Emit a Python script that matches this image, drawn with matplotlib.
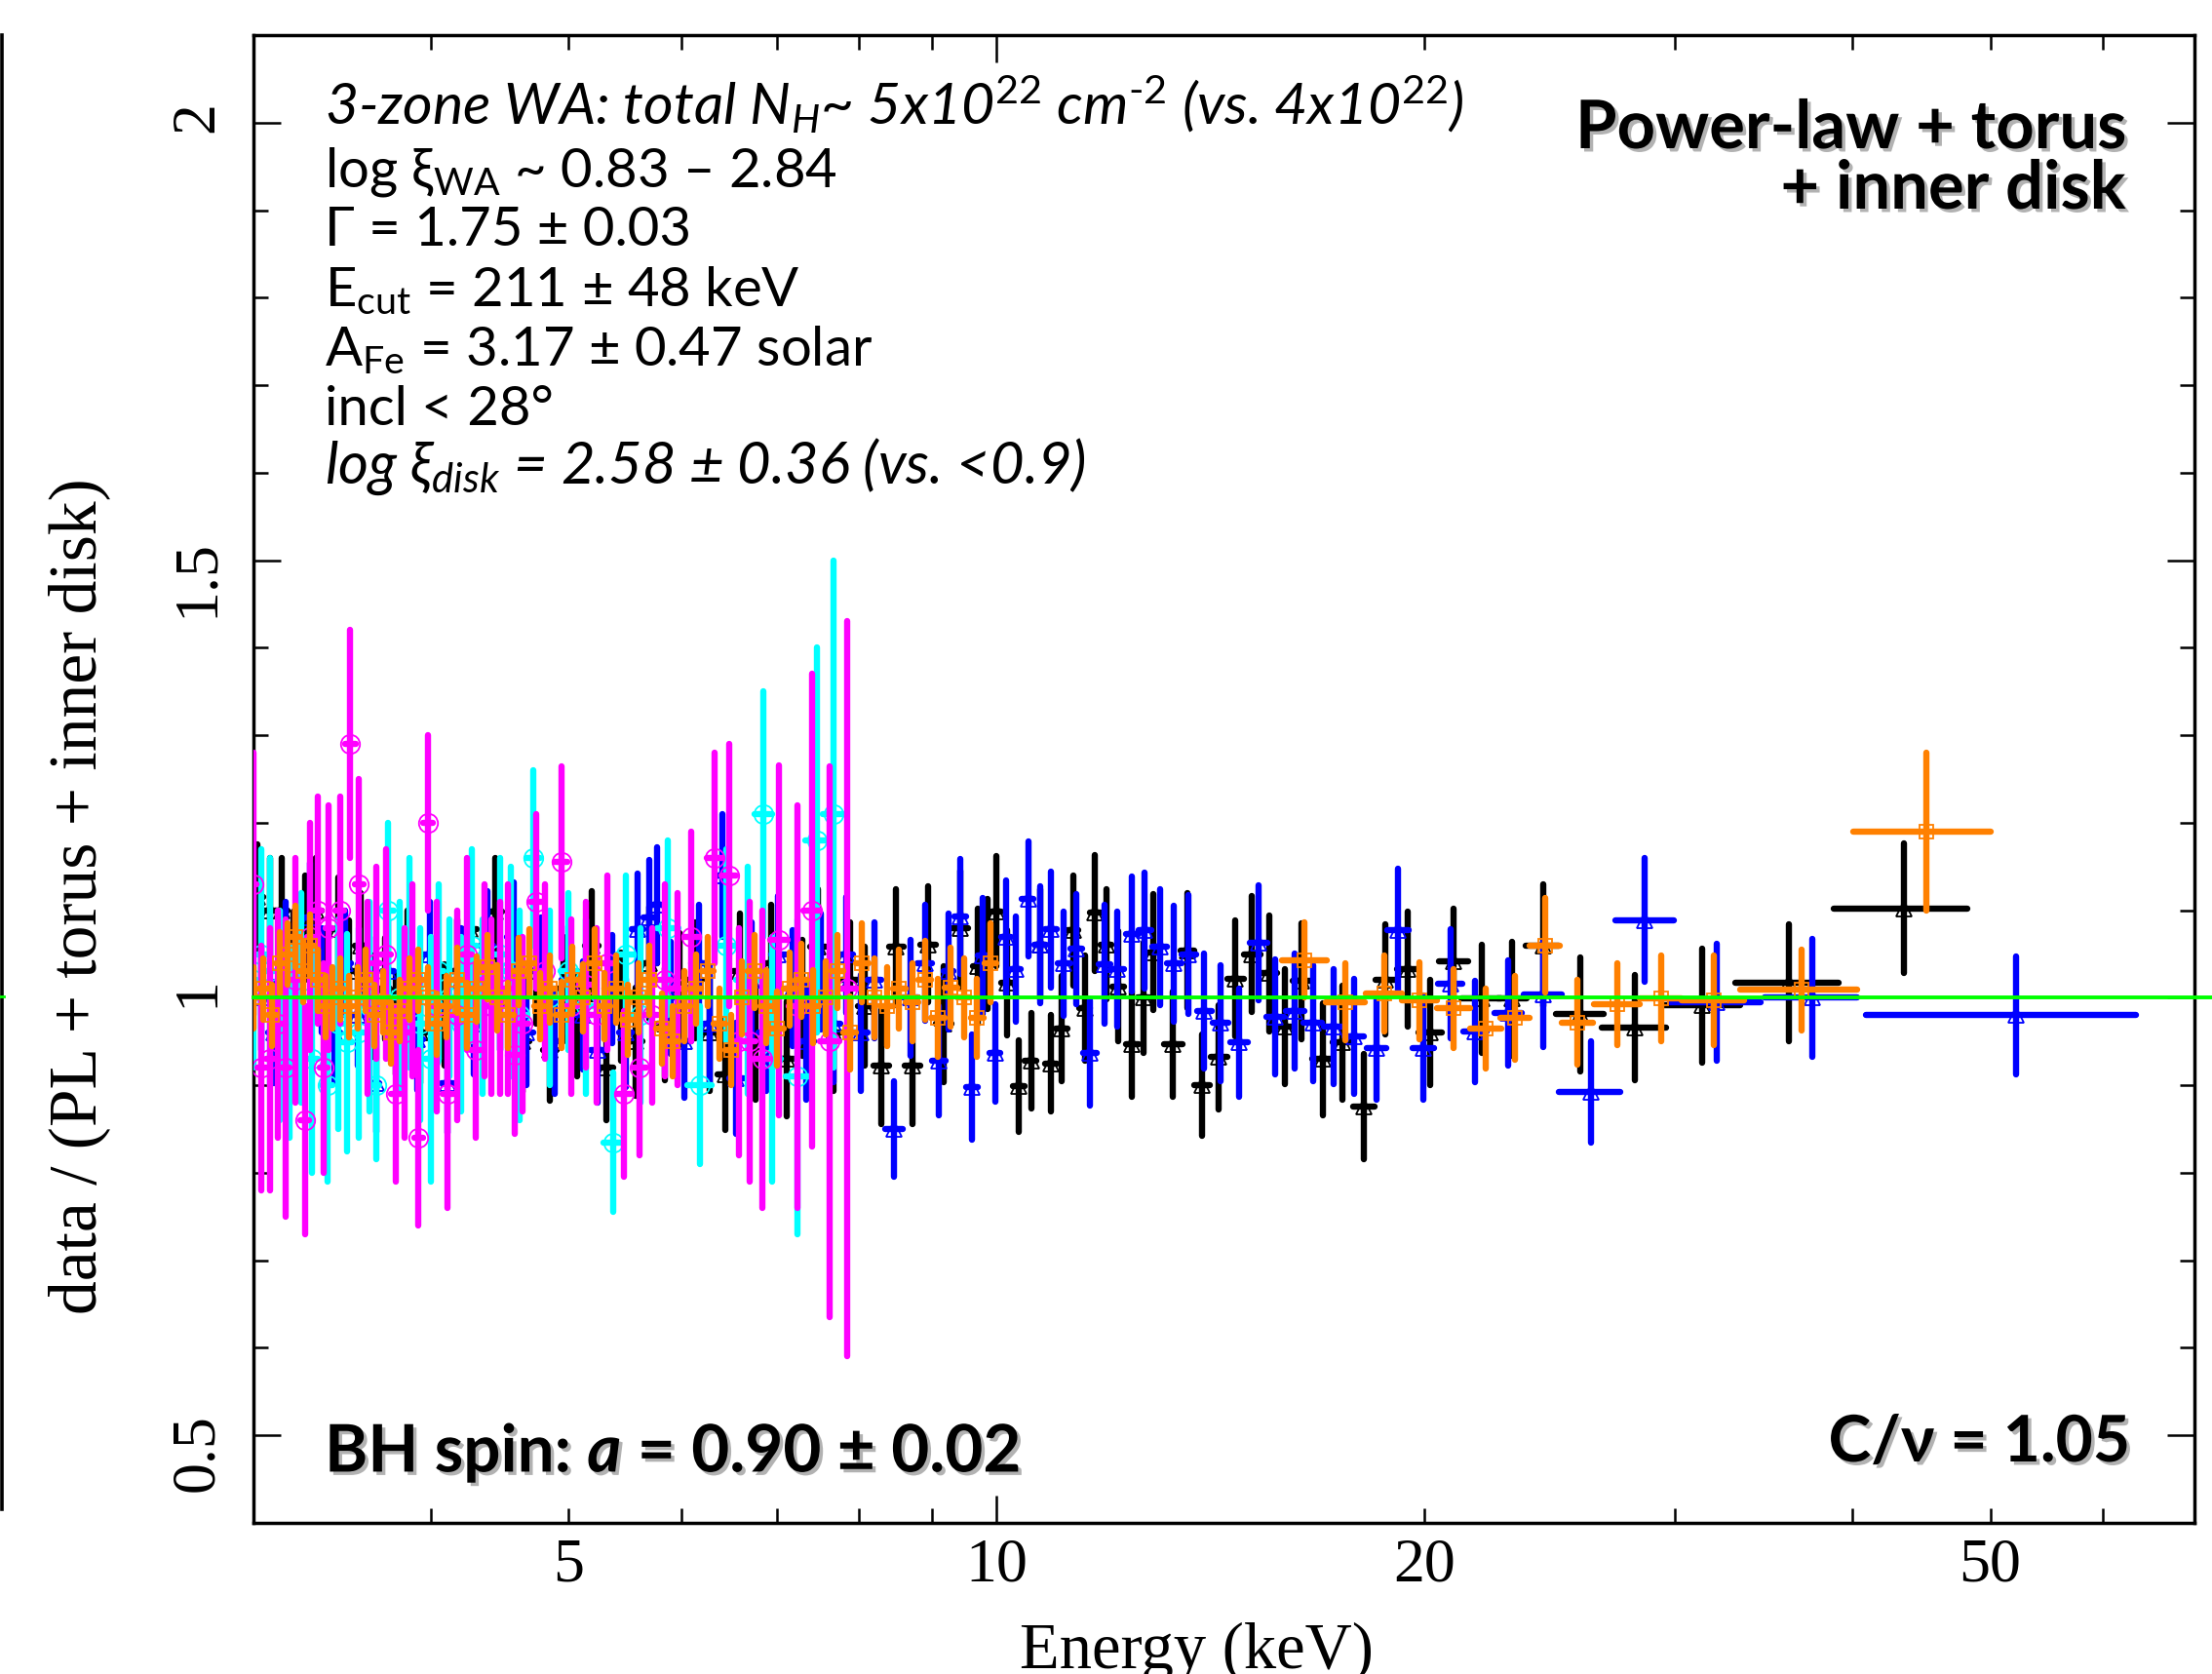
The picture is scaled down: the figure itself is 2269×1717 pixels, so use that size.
import matplotlib
matplotlib.use("Agg")
import matplotlib.pyplot as plt
import matplotlib.patheffects as pe
from matplotlib.lines import Line2D
from matplotlib.ticker import FixedLocator, FuncFormatter, MultipleLocator

# ---- spectral ratio data: energy (keV), half bin width, ratio, 1-sigma error ----

# black triangles
black_e = [3.02, 3.08, 3.14, 3.20, 3.26, 3.32, 3.38, 3.44, 3.50, 3.57,
           3.64, 3.71, 3.78, 3.85, 3.93, 4.01, 4.09, 4.17, 4.26, 4.35,
           4.44, 4.54, 4.64, 4.74, 4.85, 4.96, 5.07, 5.19, 5.31, 5.44,
           5.57, 5.70, 5.84, 5.98, 6.13, 6.28, 6.44, 6.60, 6.77, 6.94,
           7.12, 7.30, 7.49, 7.68, 7.88, 8.08, 8.29, 8.50, 8.72, 8.95,
           9.18, 9.42, 9.70, 9.86, 10.00, 10.17, 10.37, 10.57, 10.73, 10.92,
           11.11, 11.32, 11.53, 11.73, 11.94, 12.18, 12.45, 12.69, 12.89, 13.31,
           13.62, 13.95, 14.33, 14.72, 15.12, 15.54, 15.96, 16.39, 16.95, 17.50,
           18.13, 18.78, 19.45, 20.17, 20.97, 21.93, 23.05, 24.22, 25.73, 28.10,
           31.35, 36.10, 43.50]
black_de = [0.03, 0.03, 0.03, 0.03, 0.03, 0.03, 0.03, 0.03, 0.035, 0.035,
            0.035, 0.035, 0.035, 0.04, 0.04, 0.04, 0.04, 0.045, 0.045, 0.045,
            0.045, 0.05, 0.05, 0.05, 0.055, 0.055, 0.055, 0.06, 0.06, 0.065,
            0.065, 0.065, 0.07, 0.07, 0.075, 0.075, 0.08, 0.08, 0.085, 0.085,
            0.09, 0.09, 0.095, 0.095, 0.10, 0.10, 0.105, 0.105, 0.11, 0.11,
            0.115, 0.12, 0.08, 0.08, 0.08, 0.09, 0.10, 0.10, 0.08, 0.10,
            0.10, 0.10, 0.10, 0.10, 0.11, 0.12, 0.13, 0.12, 0.10, 0.20,
            0.15, 0.17, 0.19, 0.20, 0.20, 0.21, 0.21, 0.23, 0.28, 0.28,
            0.32, 0.32, 0.34, 0.38, 0.50, 0.70, 0.55, 0.65, 1.00, 1.45,
            2.0, 3.0, 4.7]
black_r = [1.115, 1.100, 1.100, 1.040, 1.080, 1.100, 1.020, 1.078, 1.030, 1.060,
           0.990, 1.010, 0.970, 1.040, 0.960, 1.000, 0.980, 1.030, 1.078, 1.020,
           1.098, 1.000, 0.950, 1.030, 0.940, 1.010, 0.970, 1.060, 0.920, 0.990,
           0.950, 1.040, 0.970, 1.010, 1.020, 0.960, 0.913, 1.030, 0.950, 1.040,
           0.930, 1.000, 1.058, 0.960, 1.020, 0.990, 0.922, 1.058, 0.922, 1.061,
           0.970, 1.079, 1.036, 1.050, 1.099, 1.017, 0.899, 0.928, 1.061, 0.925,
           0.965, 1.077, 0.988, 1.097, 1.061, 1.013, 0.947, 1.000, 1.052, 0.947,
           1.054, 0.900, 0.932, 1.022, 1.050, 1.028, 0.967, 1.019, 0.930, 0.949,
           0.876, 1.021, 1.033, 0.960, 1.042, 0.999, 0.999, 1.060, 0.981, 0.966,
           0.991, 1.017, 1.102]
black_dr = [0.060, 0.060, 0.060, 0.058, 0.060, 0.060, 0.058, 0.060, 0.058, 0.060,
            0.058, 0.058, 0.058, 0.060, 0.058, 0.058, 0.058, 0.060, 0.060, 0.060,
            0.062, 0.060, 0.058, 0.060, 0.058, 0.060, 0.060, 0.062, 0.060, 0.062,
            0.062, 0.064, 0.064, 0.064, 0.066, 0.066, 0.064, 0.066, 0.066, 0.066,
            0.066, 0.066, 0.066, 0.066, 0.066, 0.068, 0.066, 0.066, 0.066, 0.066,
            0.066, 0.066, 0.066, 0.063, 0.063, 0.060, 0.052, 0.055, 0.063, 0.055,
            0.060, 0.063, 0.060, 0.066, 0.063, 0.063, 0.060, 0.063, 0.066, 0.060,
            0.066, 0.058, 0.060, 0.066, 0.066, 0.066, 0.066, 0.066, 0.064, 0.065,
            0.060, 0.063, 0.066, 0.060, 0.060, 0.062, 0.065, 0.070, 0.065, 0.060,
            0.065, 0.067, 0.074]

# blue triangles
blue_e = [3.04, 3.10, 3.16, 3.23, 3.29, 3.35, 3.42, 3.48, 3.55, 3.62,
          3.66, 3.73, 3.80, 3.91, 3.99, 4.04, 4.11, 4.20, 4.29, 4.38,
          4.47, 4.57, 4.67, 4.78, 4.89, 5.00, 5.12, 5.24, 5.36, 5.48,
          5.59, 5.70, 5.77, 5.90, 6.03, 6.17, 6.28, 6.41, 6.56, 6.72,
          6.88, 7.02, 7.18, 7.35, 7.52, 7.68, 7.84, 8.02, 8.20, 8.47,
          8.70, 8.90, 9.10, 9.25, 9.43, 9.61, 9.78, 9.97, 10.16, 10.32,
          10.52, 10.73, 10.92, 11.15, 11.38, 11.63, 11.91, 12.16, 12.45, 12.71,
          13.02, 13.33, 13.65, 14.00, 14.38, 14.81, 15.29, 15.70, 16.21, 16.69,
          17.26, 17.84, 18.50, 19.16, 19.95, 20.85, 21.71, 22.90, 24.22, 26.17,
          28.58, 32.10, 37.50, 52.10]
blue_de = [0.03, 0.03, 0.03, 0.03, 0.03, 0.03, 0.035, 0.035, 0.035, 0.035,
           0.02, 0.035, 0.035, 0.04, 0.04, 0.03, 0.04, 0.045, 0.045, 0.045,
           0.045, 0.05, 0.05, 0.055, 0.055, 0.055, 0.06, 0.06, 0.06, 0.06,
           0.055, 0.055, 0.05, 0.07, 0.07, 0.07, 0.06, 0.07, 0.08, 0.08,
           0.08, 0.08, 0.08, 0.085, 0.085, 0.08, 0.08, 0.09, 0.09, 0.12,
           0.11, 0.10, 0.10, 0.08, 0.09, 0.09, 0.08, 0.09, 0.08, 0.08,
           0.10, 0.10, 0.10, 0.11, 0.11, 0.12, 0.12, 0.13, 0.13, 0.13,
           0.15, 0.15, 0.16, 0.17, 0.18, 0.20, 0.22, 0.22, 0.24, 0.25,
           0.27, 0.28, 0.30, 0.33, 0.35, 0.40, 0.42, 0.50, 0.75, 1.30,
           1.35, 2.35, 2.80, 11.2]
blue_r = [1.000, 0.960, 1.050, 0.990, 1.092, 1.020, 0.960, 1.040, 0.980, 1.010,
          0.902, 1.030, 0.970, 0.953, 1.050, 0.990, 0.902, 1.020, 0.970, 1.060,
          1.000, 1.070, 0.960, 1.030, 0.950, 1.020, 0.980, 0.940, 1.010, 0.960,
          1.078, 1.092, 1.106, 1.000, 0.950, 1.040, 0.970, 1.140, 0.908, 1.020,
          0.960, 1.050, 1.011, 0.950, 1.030, 0.970, 1.049, 0.960, 1.020, 0.850,
          1.000, 1.040, 0.928, 1.030, 1.093, 0.898, 1.048, 0.937, 1.069, 1.033,
          1.113, 1.061, 1.078, 1.039, 1.056, 0.937, 1.038, 1.033, 1.073, 1.077,
          1.058, 1.039, 1.049, 0.985, 0.971, 0.949, 1.063, 0.978, 0.985, 0.971,
          0.967, 0.956, 0.943, 1.077, 0.943, 1.016, 0.961, 0.983, 1.004, 0.892,
          1.089, 0.995, 1.000, 0.980]
blue_dr = [0.060, 0.058, 0.060, 0.058, 0.062, 0.060, 0.058, 0.060, 0.058, 0.060,
           0.055, 0.060, 0.058, 0.058, 0.060, 0.058, 0.056, 0.060, 0.058, 0.062,
           0.060, 0.062, 0.060, 0.062, 0.060, 0.062, 0.062, 0.060, 0.062, 0.062,
           0.064, 0.066, 0.066, 0.064, 0.064, 0.066, 0.066, 0.070, 0.064, 0.066,
           0.066, 0.066, 0.066, 0.066, 0.066, 0.066, 0.066, 0.066, 0.066, 0.055,
           0.066, 0.066, 0.062, 0.066, 0.066, 0.060, 0.066, 0.056, 0.065, 0.060,
           0.066, 0.067, 0.066, 0.060, 0.063, 0.060, 0.068, 0.066, 0.066, 0.066,
           0.066, 0.066, 0.068, 0.066, 0.066, 0.062, 0.066, 0.066, 0.066, 0.066,
           0.066, 0.066, 0.060, 0.070, 0.060, 0.062, 0.058, 0.060, 0.060, 0.058,
           0.071, 0.067, 0.067, 0.067]

# cyan circles
cyan_e = [3.00, 3.04, 3.08, 3.13, 3.18, 3.24, 3.30, 3.38, 3.44, 3.49,
          3.56, 3.62, 3.66, 3.73, 3.80, 3.86, 3.93, 4.00, 4.05, 4.12,
          4.20, 4.27, 4.35, 4.47, 4.55, 4.62, 4.72, 4.85, 5.00, 5.14,
          5.37, 5.48, 5.62, 5.87, 6.18, 6.45, 6.68, 6.85, 6.95, 7.24,
          7.47, 7.68]
cyan_de = [0.015, 0.02, 0.02, 0.025, 0.025, 0.03, 0.03, 0.03, 0.03, 0.03,
           0.035, 0.035, 0.02, 0.035, 0.035, 0.035, 0.035, 0.04, 0.03, 0.04,
           0.04, 0.04, 0.045, 0.05, 0.05, 0.05, 0.05, 0.06, 0.07, 0.07,
           0.08, 0.07, 0.08, 0.10, 0.12, 0.12, 0.12, 0.10, 0.10, 0.14,
           0.14, 0.14]
cyan_r = [1.020, 1.050, 1.030, 0.980, 0.950, 1.000, 0.930, 0.900, 0.970, 0.949,
          0.960, 0.990, 0.900, 1.100, 1.000, 1.040, 0.970, 0.930, 1.030, 1.000,
          0.970, 1.060, 0.990, 1.050, 1.030, 0.980, 1.160, 1.000, 1.030, 0.990,
          0.835, 1.050, 0.980, 1.080, 0.900, 1.060, 1.020, 1.210, 0.930, 0.910,
          1.180, 1.210]
cyan_dr = [0.100, 0.120, 0.130, 0.120, 0.110, 0.120, 0.130, 0.110, 0.120, 0.124,
           0.120, 0.120, 0.085, 0.100, 0.110, 0.120, 0.110, 0.140, 0.100, 0.090,
           0.100, 0.110, 0.100, 0.110, 0.120, 0.120, 0.100, 0.100, 0.090, 0.100,
           0.080, 0.090, 0.100, 0.100, 0.090, 0.110, 0.130, 0.140, 0.140, 0.180,
           0.220, 0.290]

# magenta circles
mag_e = [3.00, 3.04, 3.08, 3.12, 3.16, 3.21, 3.26, 3.29, 3.33, 3.36,
         3.39, 3.45, 3.51, 3.56, 3.61, 3.66, 3.72, 3.78, 3.83, 3.88,
         3.92, 3.98, 4.04, 4.11, 4.17, 4.24, 4.30, 4.36, 4.41, 4.47,
         4.53, 4.58, 4.64, 4.74, 4.81, 4.94, 5.02, 5.14, 5.23, 5.32,
         5.47, 5.61, 5.72, 5.84, 5.96, 6.10, 6.33, 6.48, 6.59, 6.70,
         6.84, 7.03, 7.24, 7.41, 7.63, 7.85]
mag_de = [0.015, 0.02, 0.02, 0.02, 0.02, 0.025, 0.025, 0.02, 0.02, 0.02,
          0.02, 0.025, 0.03, 0.025, 0.025, 0.025, 0.03, 0.03, 0.03, 0.03,
          0.03, 0.03, 0.03, 0.035, 0.035, 0.035, 0.035, 0.035, 0.03, 0.035,
          0.035, 0.03, 0.04, 0.045, 0.04, 0.05, 0.05, 0.05, 0.05, 0.05,
          0.06, 0.06, 0.06, 0.06, 0.07, 0.07, 0.08, 0.08, 0.06, 0.07,
          0.08, 0.10, 0.10, 0.10, 0.12, 0.12]
mag_r = [1.130, 0.920, 0.930, 0.970, 0.920, 1.020, 0.860, 1.070, 1.100, 0.920,
         1.080, 1.100, 1.290, 1.130, 1.000, 1.040, 1.050, 0.890, 0.960, 1.020,
         0.840, 1.200, 0.990, 0.890, 0.980, 1.050, 0.940, 1.020, 0.990, 1.000,
         1.010, 0.935, 0.970, 1.110, 1.030, 1.155, 0.990, 1.015, 0.980, 1.040,
         0.890, 0.920, 0.980, 1.020, 1.010, 1.070, 1.160, 1.140, 0.950, 0.950,
         0.930, 1.066, 0.990, 1.100, 0.950, 1.010]
mag_dr = [0.150, 0.140, 0.150, 0.130, 0.170, 0.140, 0.130, 0.130, 0.130, 0.120,
          0.140, 0.130, 0.130, 0.120, 0.110, 0.110, 0.120, 0.100, 0.120, 0.110,
          0.100, 0.100, 0.120, 0.130, 0.120, 0.110, 0.100, 0.110, 0.100, 0.110,
          0.120, 0.090, 0.100, 0.100, 0.100, 0.110, 0.100, 0.095, 0.100, 0.100,
          0.095, 0.100, 0.100, 0.110, 0.110, 0.120, 0.120, 0.150, 0.130, 0.160,
          0.170, 0.200, 0.230, 0.270, 0.315, 0.420]

# orange squares
orange_e = [3.00, 3.05, 3.09, 3.13, 3.17, 3.21, 3.25, 3.29, 3.33, 3.37,
            3.41, 3.45, 3.50, 3.55, 3.60, 3.65, 3.70, 3.75, 3.80, 3.86,
            3.92, 3.98, 4.04, 4.10, 4.17, 4.24, 4.31, 4.38, 4.45, 4.53,
            4.61, 4.69, 4.77, 4.85, 4.94, 5.03, 5.12, 5.21, 5.30, 5.40,
            5.50, 5.60, 5.70, 5.81, 5.92, 6.03, 6.14, 6.26, 6.38, 6.50,
            6.62, 6.75, 6.88, 7.01, 7.15, 7.29, 7.43, 7.58, 7.73, 7.88,
            8.04, 8.20, 8.37, 8.54, 8.72, 8.90, 9.09, 9.28, 9.48, 9.69,
            9.90,
            16.47, 17.60, 18.74, 19.84, 20.97, 22.09, 23.16, 24.31, 25.61, 27.33,
            29.34, 31.95, 36.83, 45.07]
orange_de = [0.02, 0.02, 0.02, 0.02, 0.02, 0.02, 0.02, 0.02, 0.02, 0.02,
             0.02, 0.02, 0.025, 0.025, 0.025, 0.025, 0.025, 0.025, 0.025, 0.03,
             0.03, 0.03, 0.03, 0.03, 0.035, 0.035, 0.035, 0.035, 0.035, 0.04,
             0.04, 0.04, 0.04, 0.04, 0.045, 0.045, 0.045, 0.045, 0.045, 0.05,
             0.05, 0.05, 0.05, 0.055, 0.055, 0.055, 0.055, 0.06, 0.06, 0.06,
             0.06, 0.065, 0.065, 0.07, 0.07, 0.07, 0.07, 0.075, 0.075, 0.075,
             0.08, 0.08, 0.085, 0.085, 0.09, 0.09, 0.095, 0.095, 0.10, 0.10,
             0.10,
             0.60, 0.55, 0.55, 0.55, 0.55, 0.55, 0.55, 0.60, 0.65, 1.00,
             1.00, 1.60, 3.50, 5.00]
orange_r = [1.000, 1.010, 0.980, 1.040, 1.050, 1.070, 1.030, 1.060, 1.020, 0.990,
            1.000, 1.010, 0.990, 1.000, 1.020, 0.980, 0.995, 0.960, 0.985, 1.010,
            1.020, 1.000, 0.970, 0.990, 1.020, 0.980, 1.010, 1.035, 1.000, 0.980,
            1.030, 1.040, 0.990, 1.010, 0.980, 1.020, 1.000, 1.040, 0.990, 1.010,
            0.975, 1.000, 1.020, 0.965, 0.950, 0.990, 1.010, 1.030, 0.970, 0.940,
            1.000, 1.030, 0.990, 0.965, 1.010, 1.020, 0.990, 1.000, 1.030, 0.960,
            1.040, 1.000, 0.990, 1.010, 0.995, 1.020, 0.977, 1.012, 1.000, 0.977,
            1.040,
            1.043, 0.995, 1.005, 0.997, 0.988, 0.965, 0.977, 1.060, 0.972, 0.993,
            0.999, 0.997, 1.009, 1.190]
orange_dr = [0.035, 0.035, 0.035, 0.035, 0.035, 0.035, 0.035, 0.035, 0.035, 0.035,
             0.035, 0.035, 0.035, 0.035, 0.035, 0.035, 0.035, 0.035, 0.035, 0.035,
             0.035, 0.035, 0.035, 0.035, 0.037, 0.037, 0.037, 0.037, 0.037, 0.037,
             0.038, 0.038, 0.038, 0.038, 0.038, 0.038, 0.038, 0.038, 0.038, 0.038,
             0.040, 0.040, 0.040, 0.040, 0.040, 0.040, 0.040, 0.040, 0.040, 0.040,
             0.042, 0.042, 0.042, 0.042, 0.042, 0.042, 0.042, 0.042, 0.042, 0.042,
             0.045, 0.045, 0.045, 0.045, 0.045, 0.045, 0.045, 0.045, 0.045, 0.045,
             0.045,
             0.043, 0.044, 0.043, 0.044, 0.045, 0.046, 0.048, 0.054, 0.048, 0.047,
             0.049, 0.051, 0.046, 0.090]

x_major = [10]
x_minor = [4, 5, 6, 7, 8, 9, 20, 30, 40, 50, 60]
x_labelled = [5, 20, 50]

# ---- fonts ----
plt.rcParams['mathtext.fontset'] = 'custom'
plt.rcParams['mathtext.rm'] = 'Lato'
plt.rcParams['mathtext.it'] = 'Lato:italic'
plt.rcParams['mathtext.bf'] = 'Lato:bold'
plt.rcParams['mathtext.bfit'] = 'Lato:italic:bold'
sans = ['Lato', 'DejaVu Sans']
serif = ['Liberation Serif', 'DejaVu Serif']

W, H = 2269, 1717
fig = plt.figure(figsize=(W / 100, H / 100), dpi=100)
ax = fig.add_axes([260 / W, 1 - 1562 / H, (2251 - 260) / W, (1562 - 36) / H])


def draw_set(e, de, r, dr, color, marker, ms, z):
    eb = ax.errorbar(e, r, yerr=dr, xerr=de, fmt='none', ecolor=color,
                     elinewidth=4.6, capsize=0, zorder=z)
    for lc in eb[2]:
        lc.set_capstyle('round')
    ax.plot(e, r, linestyle='none', marker=marker, ms=ms, mfc='none',
            mec=color, mew=1.3, zorder=z + 0.5)


draw_set(black_e, black_de, black_r, black_dr, 'black', '^', 12, 2)
draw_set(blue_e, blue_de, blue_r, blue_dr, (0, 0, 1), '^', 12, 3)
draw_set(cyan_e, cyan_de, cyan_r, cyan_dr, (0, 1, 1), 'o', 14, 4)
draw_set(mag_e, mag_de, mag_r, mag_dr, (1, 0, 1), 'o', 14, 5)
draw_set(orange_e, orange_de, orange_r, orange_dr, (1, 0.5, 0), 's', 9.5, 6)

# model line (ratio = 1)
ax.plot([3.0, 71.6], [1, 1], color=(0, 1, 0), lw=2.8, zorder=8, clip_on=False)

ax.set_xscale('log')
ax.set_xlim(3.0, 69.6)
ax.set_ylim(0.4, 2.1)
ax.xaxis.set_major_locator(FixedLocator(x_major))
ax.xaxis.set_minor_locator(FixedLocator(x_minor))
ax.xaxis.set_major_formatter(FuncFormatter(lambda v, p: f'{v:g}'))
ax.xaxis.set_minor_formatter(FuncFormatter(lambda v, p: f'{v:g}' if v in x_labelled else ''))
ax.yaxis.set_major_locator(MultipleLocator(0.5))
ax.yaxis.set_minor_locator(MultipleLocator(0.1))
ax.yaxis.set_major_formatter(FuncFormatter(lambda v, p: f'{v:g}'))

for s in ax.spines.values():
    s.set_linewidth(2.5)
ax.tick_params(which='both', direction='in', top=True, right=True, width=1.8,
               labelsize=46, labelfontfamily='Liberation Serif')
ax.tick_params(which='major', length=20)
ax.tick_params(which='minor', length=10.5)
ax.tick_params(axis='x', which='both', pad=11)
ax.tick_params(axis='y', which='both', pad=20, labelrotation=90)

fig.text(98 / W, 1 - 919 / H, 'data / (PL + torus + inner disk)', rotation=90,
         rotation_mode='anchor', ha='center', va='baseline', fontsize=50, family=serif)
fig.text(1227 / W, 1 - 1711 / H, 'Energy (keV)', ha='center', va='baseline',
         fontsize=48, family=serif)

# best-fit parameters
params = [
    (r'3-zone WA: total N$_{H}$~ 5x10$^{\mathit{22}}$ cm$^{\mathit{\text{-}2}}$ (vs. 4x10$^{\mathit{22}}$)', 'italic', 128, 42.5),
    (r'log ξ$_{\mathrm{WA}}$ ~ 0.83 – 2.84', 'normal', 191, 40.5),
    ('Γ = 1.75 ± 0.03', 'normal', 252, 40.5),
    (r'E$_{\mathrm{cut}}$ = 211 ± 48 keV', 'normal', 314, 40.5),
    (r'A$_{\mathrm{Fe}}$ = 3.17 ± 0.47 solar', 'normal', 375, 40.5),
    ('incl < 28°', 'normal', 436, 40.5),
    (r'log ξ$_{\mathit{disk}}$ = 2.58 ± 0.36 (vs. <0.9)', 'italic', 496, 43),
]
for txt, style, ybase, size in params:
    fig.text(333 / W, 1 - ybase / H, txt, fontsize=size, style=style, family=sans,
             ha='left', va='baseline')

shadow = [pe.SimplePatchShadow(offset=(2.5, -2.5), shadow_rgbFace='0.45', alpha=0.55),
          pe.Normal()]
fig.text(2181 / W, 1 - 152 / H, 'Power-law + torus', fontsize=49.5, weight='bold',
         family=sans, ha='right', va='baseline', path_effects=shadow)
fig.text(2181 / W, 1 - 214 / H, '+ inner disk', fontsize=49.5, weight='bold',
         family=sans, ha='right', va='baseline', path_effects=shadow)
fig.text(333 / W, 1 - 1510 / H, r'BH spin: $\mathbfit{a}$ = 0.90 ± 0.02', fontsize=48.5,
         weight='bold', family=sans, ha='left', va='baseline', path_effects=shadow)
fig.text(2185 / W, 1 - 1499 / H, 'C/ν = 1.05', fontsize=47.5, weight='bold',
         family=sans, ha='right', va='baseline', path_effects=shadow)

# frame edge and model line stub from the neighbouring panel
fig.add_artist(Line2D([1.5 / W, 1.5 / W], [1 - 36 / H, 1 - 1548 / H], color='black', lw=2.6))
fig.add_artist(Line2D([0, 4 / W], [1 - 1022 / H, 1 - 1022 / H], color=(0, 1, 0), lw=2.0))

fig.savefig('out.png', dpi=100)
